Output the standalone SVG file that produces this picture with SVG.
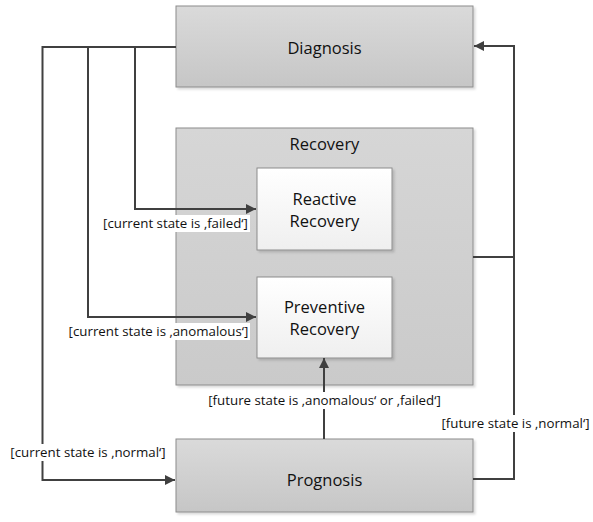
<svg xmlns="http://www.w3.org/2000/svg" width="593" height="522" viewBox="0 0 593 522">
<defs>
<linearGradient id="gOuter" x1="0" y1="0" x2="0" y2="1"><stop offset="0" stop-color="#dadada"/><stop offset="1" stop-color="#c6c6c6"/></linearGradient>
<linearGradient id="gRec" x1="0" y1="0" x2="0" y2="1"><stop offset="0" stop-color="#d6d6d6"/><stop offset="1" stop-color="#cacaca"/></linearGradient>
<linearGradient id="gInner" x1="0" y1="0" x2="0" y2="1"><stop offset="0" stop-color="#ffffff"/><stop offset="1" stop-color="#efefef"/></linearGradient>
<marker id="arr" viewBox="0 0 10 10" refX="10" refY="5" markerWidth="10" markerHeight="10" markerUnits="userSpaceOnUse" orient="auto"><path d="M0,0 L10,5 L0,10 z" fill="#404040"/></marker>
<filter id="sh" x="-5%" y="-5%" width="115%" height="115%"><feDropShadow dx="2" dy="2" stdDeviation="1" flood-color="#000" flood-opacity="0.15"/></filter>
</defs>
<style>
.box{stroke:#8c8c8c;stroke-width:1;filter:url(#sh)}
.t{font-family:"Open Sans","Noto Sans",sans-serif;fill:#111;text-anchor:middle;dominant-baseline:central}
.big{font-size:16.5px}
.lbl{font-size:13.3px}
.c{fill:none;stroke:#404040;stroke-width:2}
.bg{fill:#fff}
</style>
<g id="diagnosis"><rect class="box" x="176" y="6" width="297" height="81" fill="url(#gOuter)"/><text class="t big" x="324.5" y="47">Diagnosis</text></g>
<g id="recovery"><rect class="box" x="176" y="128" width="297" height="257" fill="url(#gRec)"/><text class="t big" x="324.5" y="143">Recovery</text></g>
<g id="reactive"><rect class="box" x="257" y="168" width="135" height="82" fill="url(#gInner)"/><text class="t big" x="324.5" y="198">Reactive</text><text class="t big" x="324.5" y="220">Recovery</text></g>
<g id="preventive"><rect class="box" x="257" y="277" width="135" height="81" fill="url(#gInner)"/><text class="t big" x="324.5" y="306">Preventive</text><text class="t big" x="324.5" y="328">Recovery</text></g>
<g id="prognosis"><rect class="box" x="176" y="439" width="297" height="73" fill="url(#gOuter)"/><text class="t big" x="324.5" y="479">Prognosis</text></g>
<g id="connectors">
<path class="c" d="M176,47 H42.5 V480 H175" marker-end="url(#arr)"/>
<path class="c" d="M88,47 V317 H256" marker-end="url(#arr)"/>
<path class="c" d="M135,47 V209 H256" marker-end="url(#arr)"/>
<path class="c" d="M473,257 H514"/>
<path class="c" d="M473,479 H514 V46 H474" marker-end="url(#arr)"/>
<path class="c" d="M324,439 V358" marker-end="url(#arr)"/>
<rect class="bg" x="101" y="215" width="149" height="17"/>
<text class="t lbl" x="175.5" y="223">[current state is ‚failed‘]</text>
<rect class="bg" x="67" y="323" width="183" height="17"/>
<text class="t lbl" x="158.5" y="331">[current state is ‚anomalous‘]</text>
<rect class="bg" x="8" y="444" width="160" height="17"/>
<text class="t lbl" x="88" y="452">[current state is ‚normal‘]</text>
<rect class="bg" x="205" y="392" width="239" height="17"/>
<text class="t lbl" x="324.5" y="400">[future state is ‚anomalous‘ or ‚failed‘]</text>
<rect class="bg" x="440" y="415" width="151" height="17"/>
<text class="t lbl" x="515.5" y="423">[future state is ‚normal‘]</text>
</g>
</svg>
